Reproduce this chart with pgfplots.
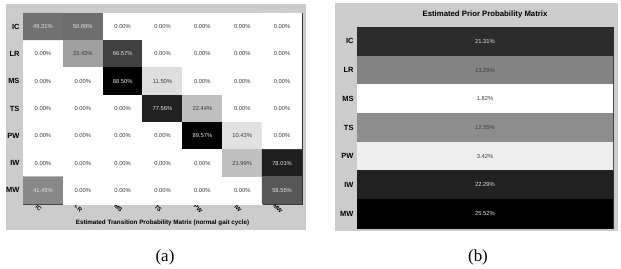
\documentclass[border=0pt]{standalone}
\usepackage{pgfplots}
\pgfplotsset{compat=1.18}
\usepackage{pgfplotstable}
\usepackage{fontspec}
\setmainfont{Liberation Sans}
\newfontfamily\capfont{Liberation Serif}
\definecolor{panelgray}{RGB}{204,204,204}
\definecolor{darktxt}{RGB}{60,60,60}
\definecolor{lighttxt}{RGB}{225,225,225}
\newcommand\cellfont{\fontsize{5.8}{6}\selectfont}
\newcommand\tickfont{\fontsize{7.5}{8}\selectfont\bfseries}
\newcommand\pct{\pgfmathprintnumber[fixed,fixed zerofill,precision=2,assume math mode=true]{\pgfplotspointmeta}\%}

\pgfplotstableread{
x y v
0 0 49.31
1 0 50.69
2 0 0
3 0 0
4 0 0
5 0 0
6 0 0
0 1 0
1 1 33.43
2 1 66.57
3 1 0
4 1 0
5 1 0
6 1 0
0 2 0
1 2 0
2 2 88.50
3 2 11.50
4 2 0
5 2 0
6 2 0
0 3 0
1 3 0
2 3 0
3 3 77.56
4 3 22.44
5 3 0
6 3 0
0 4 0
1 4 0
2 4 0
3 4 0
4 4 89.57
5 4 10.43
6 4 0
0 5 0
1 5 0
2 5 0
3 5 0
4 5 0
5 5 21.99
6 5 78.01
0 6 41.45
1 6 0
2 6 0
3 6 0
4 6 0
5 6 0
6 6 58.55
}\transtable

\pgfplotstableread{
x y v
0 0 21.31
1 0 21.31
0 1 13.29
1 1 13.29
0 2 1.82
1 2 1.82
0 3 12.35
1 3 12.35
0 4 3.42
1 4 3.42
0 5 22.29
1 5 22.29
0 6 25.52
1 6 25.52
}\priortable

\begin{document}
\begin{tikzpicture}
\path[use as bounding box] (0,0) rectangle (621bp,269bp);
\fill[panelgray] (6bp,39bp) rectangle (306bp,265bp);
\fill[panelgray] (335bp,38bp) rectangle (618bp,266bp);

\begin{axis}[
  at={(23bp,65bp)}, anchor=south west,
  scale only axis, width=279bp, height=191bp,
  xmin=-0.5, xmax=6.5, ymin=-0.5, ymax=6.5, y dir=reverse,
  enlargelimits=false,
  xtick={0,...,6}, ytick={0,...,6},
  xticklabels={IC,LR,MS,TS,PW,IW,MW},
  yticklabels={IC,LR,MS,TS,PW,IW,MW},
  tick align=inside, major tick length=3bp,
  tick style={black!80},
  axis line style={black!80},
  colormap={revgray}{rgb255=(255,255,255) rgb255=(0,0,0)},
  point meta min=0, point meta max=89.57,
  axis background/.style={fill=white},
  ticklabel style={font=\tickfont},
  xticklabel style={font=\fontsize{5.8}{6}\selectfont\bfseries, rotate=-45, anchor=center, inner sep=0.3bp, yshift=-6bp},
  xlabel={Estimated Transition Probability Matrix (normal gait cycle)},
  xlabel style={font=\fontsize{6.3}{7}\selectfont\bfseries, inner sep=0.3bp, at={(axis description cs:0.5,-0.1)}, anchor=center},
]
\addplot[matrix plot*, mesh/cols=7, mesh/ordering=x varies, point meta=explicit]
  table[x=x, y=y, meta=v] {\transtable};
\addplot[draw=none, mark=none, point meta=explicit,
  nodes near coords={\pct},
  nodes near coords style={anchor=center, font=\cellfont, text=darktxt},
  x filter/.expression={\thisrow{v}>35 ? nan : x}]
  table[x=x, y=y, meta=v] {\transtable};
\addplot[draw=none, mark=none, point meta=explicit,
  nodes near coords={\pct},
  nodes near coords style={anchor=center, font=\cellfont, text=lighttxt},
  x filter/.expression={\thisrow{v}>35 ? x : nan}]
  table[x=x, y=y, meta=v] {\transtable};
\end{axis}

\begin{axis}[
  at={(357bp,41bp)}, anchor=south west,
  scale only axis, width=256bp, height=201bp,
  xmin=-0.5, xmax=1.5, ymin=-0.5, ymax=6.5, y dir=reverse,
  enlargelimits=false,
  xtick=\empty, ytick={0,...,6},
  yticklabels={IC,LR,MS,TS,PW,IW,MW},
  tick align=inside, major tick length=3bp,
  tick style={black!80},
  axis line style={black!80},
  colormap={revgray}{rgb255=(255,255,255) rgb255=(0,0,0)},
  point meta min=1.82, point meta max=25.52,
  ticklabel style={font=\tickfont},
  title={Estimated Prior Probability Matrix},
  title style={font=\fontsize{7.8}{8}\selectfont\bfseries, at={(axis description cs:0.5,1)}, yshift=7bp, anchor=center},
]
\addplot[matrix plot*, mesh/cols=2, mesh/ordering=x varies, point meta=explicit]
  table[x=x, y=y, meta=v] {\priortable};
\addplot[draw=none, mark=none, point meta=explicit,
  nodes near coords={\pct},
  nodes near coords style={anchor=center, font=\cellfont, text=darktxt},
  x filter/.expression={(x==0 && \thisrow{v}<15) ? 0.5 : nan}]
  table[x=x, y=y, meta=v] {\priortable};
\addplot[draw=none, mark=none, point meta=explicit,
  nodes near coords={\pct},
  nodes near coords style={anchor=center, font=\cellfont, text=lighttxt},
  x filter/.expression={(x==0 && \thisrow{v}>15) ? 0.5 : nan}]
  table[x=x, y=y, meta=v] {\priortable};
\end{axis}

\node[font=\capfont\fontsize{17}{17}\selectfont] at (165bp,12bp) {(a)};
\node[font=\capfont\fontsize{17}{17}\selectfont] at (478bp,12bp) {(b)};
\end{tikzpicture}
\end{document}
